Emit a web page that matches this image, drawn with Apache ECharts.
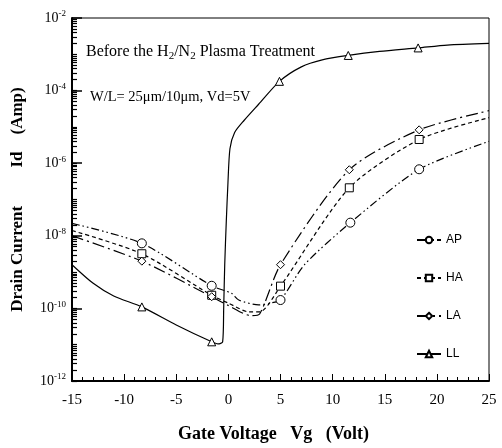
<!DOCTYPE html>
<html>
<head>
<meta charset="utf-8">
<script src="https://cdn.jsdelivr.net/npm/echarts@6/dist/echarts.min.js"></script>
<style>
html, body { margin: 0; padding: 0; background: #fff; }
#main { width: 502px; height: 448px; }
</style>
</head>
<body>
<div id="main"></div>
<script>
// curves: [Vg (V), Id (A)]
const apCurve = [[-15, 2.2e-8], [-8.3, 6.2e-9], [-1.6, 4.2e-10], [0.3, 2.6e-10], [1, 1.7e-10], [2.9, 1.25e-10],
  [4, 1.4e-10], [5, 1.7e-10], [7.3, 1.6e-9], [11.7, 2.3e-8], [18.3, 6.8e-7], [25, 4.0e-6]];
const haCurve = [[-15, 1.4e-8], [-8.3, 3.2e-9], [-1.6, 2.3e-10], [0, 1.4e-10], [2, 8e-11], [3, 8e-11],
  [5, 4.1e-10], [11.6, 2.1e-7], [18.3, 4.5e-6], [25, 1.8e-5]];
const laCurve = [[-15, 1.0e-8], [-8.3, 2.0e-9], [-1.6, 2.1e-10], [0, 1.2e-10], [2.2, 6.3e-11], [3, 7e-11],
  [5, 1.6e-9], [11.6, 6.6e-7], [18.3, 8.3e-6], [25, 2.8e-5]];
const llCurve = [[-15, 1.6e-9], [-13, 5e-10], [-11, 2.2e-10], [-8.3, 1.1e-10], [-5, 3.5e-11], [-1.6, 1.2e-11],
  [-1.0, 1.05e-11], [-0.55, 1.2e-11], [-0.45, 1e-10], [-0.35, 1.6e-9], [-0.2, 2.5e-8], [-0.05, 2.5e-7],
  [0.15, 2.5e-6], [0.6, 7e-6], [1.5, 1.5e-5], [2.9, 4.2e-5], [4.9, 1.8e-4], [7, 4.5e-4], [9, 7e-4],
  [11.5, 9.3e-4], [14.5, 1.2e-3], [18.2, 1.5e-3], [21, 1.8e-3], [25, 2.0e-3]];

// Vg where a marker is drawn
const apMarks = [-8.3, -1.6, 5, 11.7, 18.3];
const haMarks = [-8.3, -1.6, 5, 11.6, 18.3];
const laMarks = [-8.3, -1.6, 5, 11.6, 18.3];
const llMarks = [-8.3, -1.6, 4.9, 11.5, 18.2];

const yLabelValues = [1e-12, 1e-10, 1e-8, 1e-6, 1e-4, 1e-2];
const decades = [-12, -11, -10, -9, -8, -7, -6, -5, -4, -3];

let minorTicks = [];
decades.forEach(function (d) {
  for (let k = 1; k <= 9; k++) minorTicks.push(k * Math.pow(10, d));
});

const serif = '"Liberation Serif", "DejaVu Serif", serif';

function build(curve, marks) {
  return curve.map(function (p) {
    return marks.indexOf(p[0]) >= 0 ? p : { value: p, symbol: 'none' };
  });
}

function curveSeries(name, curve, marks, symbol, size, dash) {
  return {
    name: name,
    type: 'line',
    data: build(curve, marks),
    smooth: 0.25,
    symbol: symbol,
    symbolSize: size,
    showAllSymbol: true,
    lineStyle: { color: '#000', width: 1.2, type: dash },
    itemStyle: { color: '#fff', borderColor: '#000', borderWidth: 1 },
    emphasis: { disabled: true }
  };
}

let chart = echarts.init(document.getElementById('main'));
chart.setOption({
  animation: false,
  grid: { left: 72, right: 13, top: 18, bottom: 61, show: true, borderColor: '#000', borderWidth: 1 },
  legend: {
    orient: 'vertical',
    left: 411,
    top: 229,
    itemWidth: 24,
    itemHeight: 8,
    itemGap: 26,
    textStyle: { fontFamily: '"Liberation Sans", Arial, sans-serif', fontSize: 12, color: '#000' },
    data: ['AP', 'HA', 'LA', 'LL']
  },
  graphic: [
    {
      type: 'text', left: 86, top: 44,
      style: {
        text: '{a|Before the H}{s|2}{a|/N}{s|2}{a| Plasma Treatment}',
        rich: {
          a: { fontFamily: serif, fontSize: 16, fill: '#000' },
          s: { fontFamily: serif, fontSize: 11, fill: '#000', padding: [8, 0, 0, 0] }
        }
      }
    },
    {
      type: 'text', left: 90, top: 90,
      style: { text: 'W/L= 25\u03bcm/10\u03bcm, Vd=5V', font: '14.5px ' + serif, fill: '#000' }
    }
  ],
  xAxis: {
    type: 'value',
    min: -15, max: 25, interval: 5,
    name: 'Gate Voltage   Vg   (Volt)',
    nameLocation: 'middle',
    nameGap: 44,
    nameTextStyle: { fontFamily: serif, fontWeight: 'bold', fontSize: 18, color: '#000', padding: [0, 14, 0, 0] },
    axisLine: { onZero: false, lineStyle: { color: '#000', width: 2 } },
    axisTick: { inside: true, length: 7, lineStyle: { color: '#000' } },
    minorTick: { show: true, splitNumber: 5, length: 4, lineStyle: { color: '#000' } },
    splitLine: { show: false },
    axisLabel: { fontFamily: serif, fontSize: 15, color: '#000', margin: 12 }
  },
  yAxis: [
    {
      type: 'log',
      min: 1e-12, max: 1e-2,
      name: 'Drain Current         Id    (Amp)',
      nameLocation: 'middle',
      nameGap: 46,
      nameRotate: 90,
      nameTextStyle: { fontFamily: serif, fontWeight: 'bold', fontSize: 17, color: '#000' },
      axisLine: { onZero: false, lineStyle: { color: '#000', width: 2 } },
      axisTick: { inside: true, length: 10, customValues: yLabelValues, lineStyle: { color: '#000', width: 1.5 } },
      splitLine: { show: false },
      axisLabel: {
        customValues: yLabelValues,
        margin: 6,
        formatter: function (v) {
          return '{b|10}{s|' + Math.round(Math.log10(v)) + '}';
        },
        rich: {
          b: { fontFamily: serif, fontSize: 14, color: '#000' },
          s: { fontFamily: serif, fontSize: 9, color: '#000', padding: [0, 0, 8, 0] }
        }
      }
    },
    {
      type: 'log',
      min: 1e-12, max: 1e-2,
      position: 'left',
      axisLine: { show: false, onZero: false },
      axisTick: { inside: true, length: 5, customValues: minorTicks, lineStyle: { color: '#000', width: 1.2 } },
      axisLabel: { show: false },
      splitLine: { show: false }
    }
  ],
  series: [
    curveSeries('AP', apCurve, apMarks, 'circle', 9, [8, 3, 1.5, 3, 1.5, 3]),
    curveSeries('HA', haCurve, haMarks, 'rect', 8, [4, 3]),
    curveSeries('LA', laCurve, laMarks, 'diamond', 8, [12, 4, 2, 4]),
    curveSeries('LL', llCurve, llMarks, 'triangle', 8, 'solid')
  ]
});
</script>
</body>
</html>
